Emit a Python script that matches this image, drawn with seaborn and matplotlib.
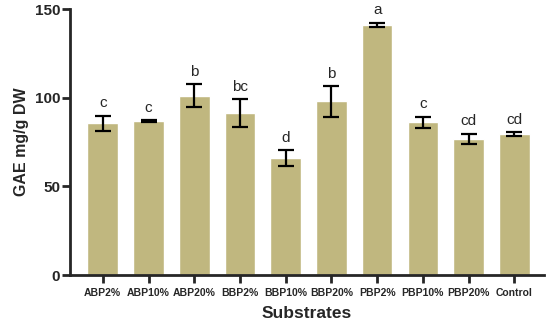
import matplotlib
matplotlib.use("Agg")
import matplotlib.pyplot as plt
import seaborn as sns
import pandas as pd

# ── Data ──
substrates = ["ABP2%", "ABP10%", "ABP20%", "BBP2%", "BBP10%",
              "BBP20%", "PBP2%", "PBP10%", "PBP20%", "Control"]
gae_mean = [85.7, 86.8, 101.2, 91.3, 66.0, 97.9, 141.0, 86.2, 76.7, 79.5]
gae_sd = [4.2, 0.5, 6.3, 8.0, 4.6, 8.6, 1.3, 3.2, 3.0, 0.9]
letters = ["c", "c", "b", "bc", "d", "b", "a", "c", "cd", "cd"]

df = pd.DataFrame({"substrate": substrates, "gae": gae_mean, "sd": gae_sd})

sns.set_style("ticks")
plt.rcParams["font.family"] = ["Liberation Sans", "DejaVu Sans"]

fig = plt.figure(figsize=(5.5, 3.24), dpi=100)
ax = fig.add_axes([0.127, 0.151, 0.863, 0.821])

sns.barplot(data=df, x="substrate", y="gae", color="#C0B77F",
            saturation=1, width=0.67, errorbar=None, ax=ax)
ax.errorbar(range(len(substrates)), df["gae"], yerr=df["sd"], fmt="none",
            ecolor="black", elinewidth=1.6, capsize=5.5, capthick=1.6)

for i, (m, s, lab) in enumerate(zip(gae_mean, gae_sd, letters)):
    ax.text(i, m + s + 3, lab, ha="center", va="bottom", fontsize=11)

ax.set_ylim(0, 150)
ax.set_xlim(-0.72, 9.66)
ax.set_yticks([0, 50, 100, 150])
ax.set_ylabel("GAE mg/g DW", fontsize=11.5, fontweight="bold", labelpad=4)
ax.set_xlabel("Substrates", fontsize=12.5, fontweight="bold", labelpad=6)

for side in ["left", "bottom"]:
    ax.spines[side].set_linewidth(2)
sns.despine(ax=ax)
ax.tick_params(axis="both", width=2, length=6)
ax.tick_params(axis="y", labelsize=11, pad=1)
ax.tick_params(axis="x", labelsize=7.5, pad=3)
for t in ax.get_xticklabels() + ax.get_yticklabels():
    t.set_fontweight("bold")

fig.savefig("out.png", dpi=100)
